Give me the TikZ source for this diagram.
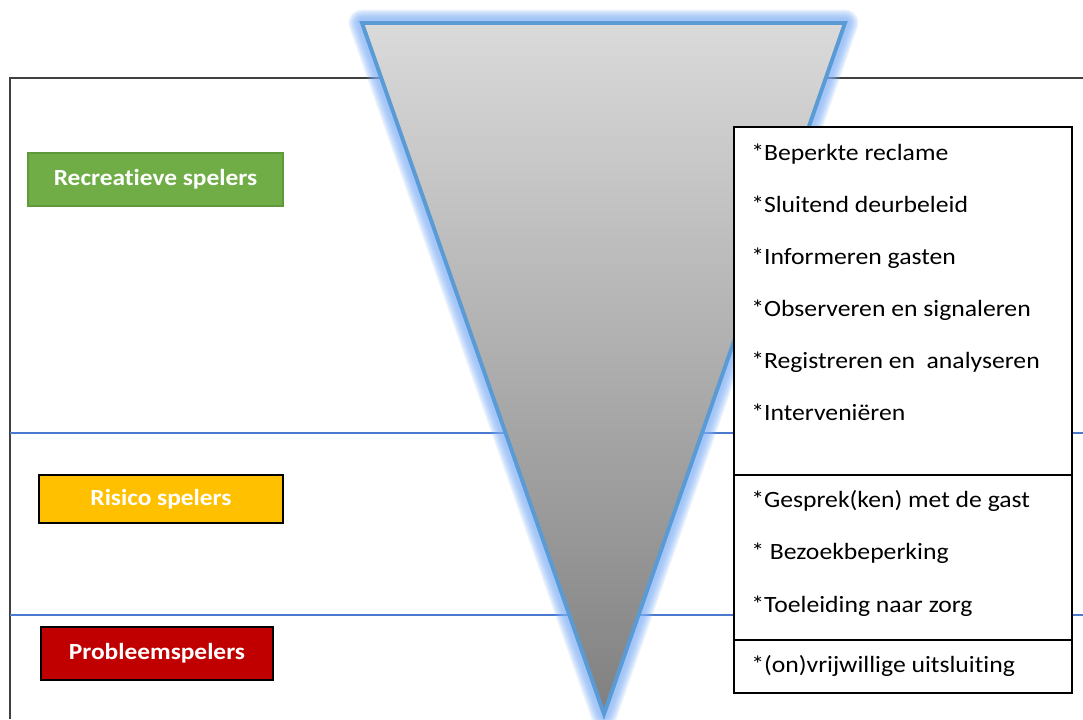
\documentclass[tikz,border=0pt]{standalone}
\usepackage{fontspec}
\setmainfont{Carlito}[FakeStretch=1.1,Ligatures=NoCommon]
\definecolor{frameline}{HTML}{404040}
\definecolor{bandline}{HTML}{4A7BD0}
\definecolor{triblue}{HTML}{5B9BD5}
\definecolor{glowblue}{HTML}{7FB0F8}
\definecolor{recgreen}{HTML}{70AD47}
\definecolor{recgreenb}{HTML}{5E9A3A}
\definecolor{risyellow}{HTML}{FFC000}
\definecolor{probred}{HTML}{C00000}
\definecolor{trtop}{HTML}{DADADA}
\definecolor{trbot}{HTML}{808080}
\begin{document}
\begin{tikzpicture}[x=0.025cm,y=-0.025cm,
  labelbox/.style={draw=black,line width=1.4pt,font=\fontsize{16.4}{19}\selectfont\bfseries,text=white,inner sep=0pt},
  item/.style={anchor=base west,inner sep=0pt,font=\fontsize{16.6}{19}\selectfont,text=black},
  band/.style={draw=bandline,line width=0.9pt},
  frm/.style={draw=frameline,line width=1.1pt}]
\useasboundingbox (0,0) rectangle (1083,719);
\fill[white] (0,0) rectangle (1083,719);
% frame and band lines
\coordinate (fTL) at (10,78);
\coordinate (fTR) at (1083,78);
\coordinate (fBL) at (10,719);
\draw[frm] (fBL) -- (fTL) -- (fTR);
\coordinate (b1L) at (10,433);
\coordinate (b1R) at (1083,433);
\coordinate (b2L) at (10,615);
\coordinate (b2R) at (1083,615);
\draw[band] (b1L) -- (b1R);
\draw[band] (b2L) -- (b2R);
% triangle with glow
\coordinate (tA) at (362,23);
\coordinate (tB) at (845,23);
\coordinate (tC) at (604,714);
\foreach \w in {19,17,15,13,11,9,7}
  \draw[glowblue,line width=\w pt,opacity=0.16,line join=round] (tA) -- (tB) -- (tC) -- cycle;
\shade[top color=trtop,bottom color=trbot] (tA) -- (tB) -- (tC) -- cycle;
\draw[triblue,line width=2.8pt,line join=miter] (tA) -- (tB) -- (tC) -- cycle;
% category labels
\node[labelbox,fill=recgreen,draw=recgreenb,line width=0.8pt,minimum width=255*0.025cm,minimum height=53*0.025cm] (rec) at (155.5,179.5) {Recreatieve spelers};
\node[labelbox,fill=risyellow,minimum width=244*0.025cm,minimum height=48*0.025cm] (ris) at (161,499) {Risico spelers};
\node[labelbox,fill=probred,minimum width=232*0.025cm,minimum height=53*0.025cm] (prob) at (157,653.5) {Probleemspelers};
% measures box
\draw[fill=white,draw=black,line width=1.2pt] (734,127) rectangle (1072,693);
\coordinate (d1L) at (734,475);
\coordinate (d1R) at (1072,475);
\coordinate (d2L) at (734,640);
\coordinate (d2R) at (1072,640);
\draw[black,line width=1.2pt] (d1L) -- (d1R);
\draw[black,line width=1.2pt] (d2L) -- (d2R);
\node[item] (m1) at (751,160) {*Beperkte reclame};
\node[item] (m2) at (751,212) {*Sluitend deurbeleid};
\node[item] (m3) at (751,264) {*Informeren gasten};
\node[item] (m4) at (751,316) {*Observeren en signaleren};
\node[item] (m5) at (751,368) {*Registreren en\ \ analyseren};
\node[item] (m6) at (751,420) {*Interveniëren};
\node[item] (m7) at (751,507) {*Gesprek(ken) met de gast};
\node[item] (m8) at (751,559) {*\ Bezoekbeperking};
\node[item] (m9) at (751,612) {*Toeleiding naar zorg};
\node[item] (m10) at (751,672) {*(on)vrijwillige uitsluiting};
\end{tikzpicture}
\end{document}
